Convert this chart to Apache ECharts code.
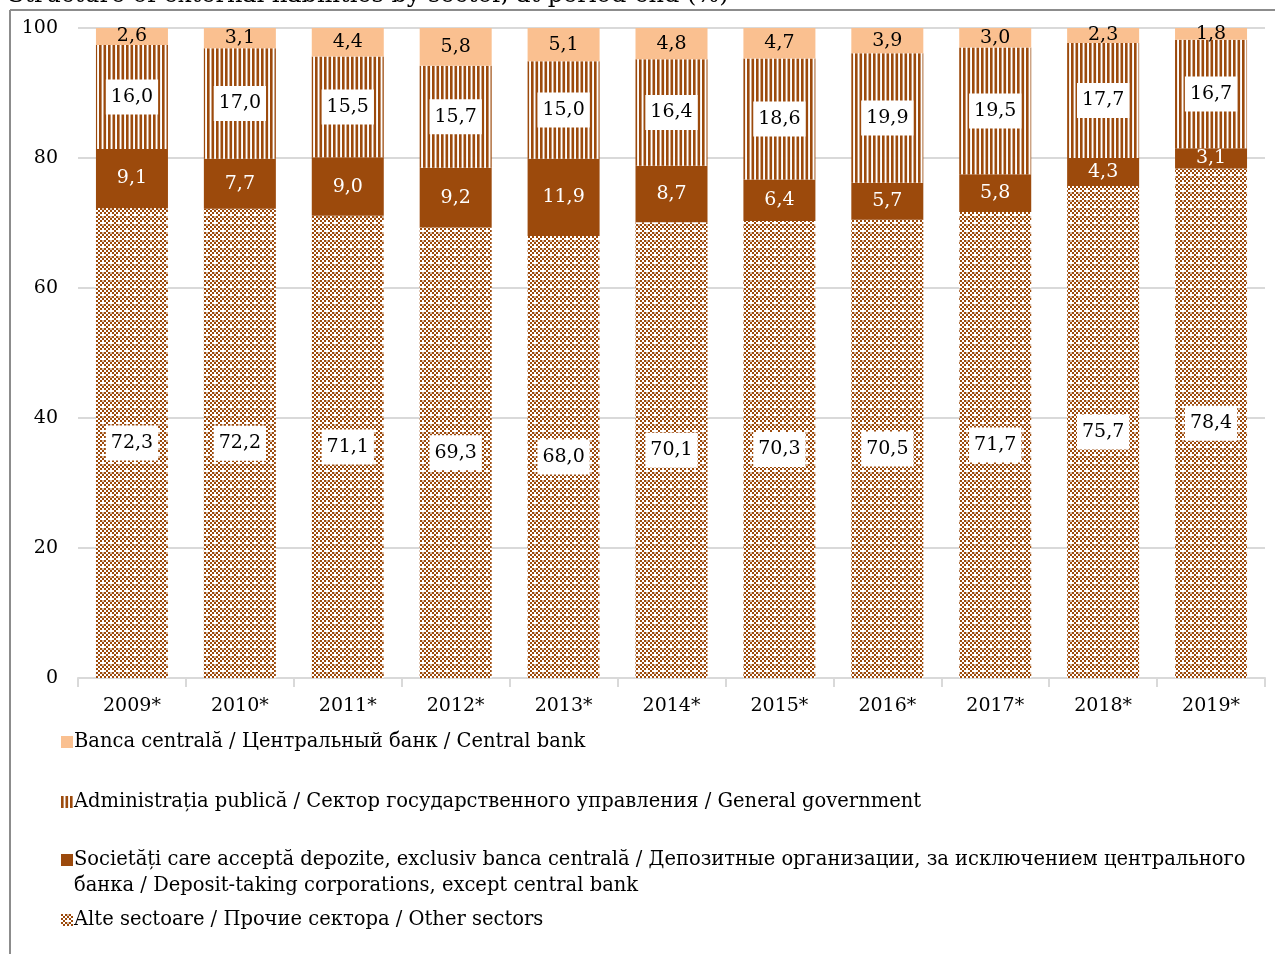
<!DOCTYPE html>
<html>
<head>
<meta charset="utf-8">
<script src="https://cdn.jsdelivr.net/npm/echarts@6/dist/echarts.min.js"></script>
<style>
  html, body { margin: 0; padding: 0; background: #fff; }
  #main { width: 1275px; height: 954px; }
</style>
</head>
<body>
<div id="main"></div>
<script>
var years = ['2009*', '2010*', '2011*', '2012*', '2013*', '2014*', '2015*', '2016*', '2017*', '2018*', '2019*'];
var otherSectors = [72.3, 72.2, 71.1, 69.3, 68.0, 70.1, 70.3, 70.5, 71.7, 75.7, 78.4];
var depositTaking = [9.1, 7.7, 9.0, 9.2, 11.9, 8.7, 6.4, 5.7, 5.8, 4.3, 3.1];
var generalGov = [16.0, 17.0, 15.5, 15.7, 15.0, 16.4, 18.6, 19.9, 19.5, 17.7, 16.7];
var centralBank = [2.6, 3.1, 4.4, 5.8, 5.1, 4.8, 4.7, 3.9, 3.0, 2.3, 1.8];
var yTicks = [0, 20, 40, 60, 80, 100];

var names = [
  'Banca centrală / Центральный банк / Central bank',
  'Administrația publică / Сектор государственного управления / General government',
  'Societăți care acceptă depozite, exclusiv banca centrală / Депозитные организации, за исключением центрального',
  'Alte sectoare / Прочие сектора / Other sectors'
];
var name3second = 'банка / Deposit-taking corporations, except central bank';

var BROWN = '#9c4a0c';
var PEACH = '#fac090';
var FONT = 'DejaVu Serif';

// pattern canvases
function stripes() {
  var c = document.createElement('canvas');
  c.width = 9; c.height = 4;
  var g = c.getContext('2d');
  g.fillStyle = '#fff'; g.fillRect(0, 0, 9, 4);
  g.fillStyle = BROWN;
  g.fillRect(0, 0, 2.6, 4);
  g.fillRect(4.5, 0, 2.6, 4);
  return c;
}
function checks() {
  var c = document.createElement('canvas');
  c.width = 8; c.height = 8;
  var g = c.getContext('2d');
  g.fillStyle = '#fff'; g.fillRect(0, 0, 8, 8);
  g.fillStyle = BROWN;
  for (var i = 0; i < 4; i++) {
    for (var j = 0; j < 4; j++) {
      if ((i + j) % 2 === 0 && !(i === 3 && j === 3)) g.fillRect(i * 2, j * 2, 2, 2);
    }
  }
  g.fillStyle = 'rgba(156,74,12,0.35)';
  g.fillRect(6, 0, 2, 2);
  return c;
}

var fmt = function (p) { return p.value.toFixed(1).replace('.', ','); };

var chart = echarts.init(document.getElementById('main'));

function legendAt(name, top) {
  return {
    data: [name],
    left: 56,
    top: top,
    orient: 'vertical',
    icon: 'rect',
    itemWidth: 12,
    itemHeight: 12,
    itemGap: 0,
    selectedMode: false,
    textStyle: { fontFamily: FONT, fontSize: 19.5, color: '#000', padding: [0, 0, 0, -4] }
  };
}

chart.setOption({
  animation: false,
  textStyle: { fontFamily: FONT },
  graphic: [
    { type: 'text', x: 8, y: -4, style: { text: 'Structure of external liabilities by sector, at period-end (%)', font: '24px ' + FONT, fill: '#000', verticalAlign: 'middle' } },
    { type: 'text', x: 74, y: 886, style: { text: name3second, font: '19.5px ' + FONT, fill: '#000', verticalAlign: 'middle' } },
    { type: 'line', shape: { x1: 10, y1: 10, x2: 1275, y2: 10 }, style: { stroke: '#8c8c8c', lineWidth: 2 } },
    { type: 'line', shape: { x1: 10, y1: 10, x2: 10, y2: 954 }, style: { stroke: '#8c8c8c', lineWidth: 2 } }
  ],
  grid: { left: 78, right: 10, top: 28, bottom: 276 },
  legend: [
    legendAt(names[0], 727),
    legendAt(names[1], 787),
    legendAt(names[2], 845),
    legendAt(names[3], 905)
  ],
  xAxis: {
    type: 'category',
    data: years,
    axisLine: { lineStyle: { color: '#d9d9d9', width: 2 } },
    axisTick: { show: true, length: 9, lineStyle: { color: '#d9d9d9', width: 2 } },
    axisLabel: { color: '#000', fontSize: 19, margin: 19, fontFamily: FONT }
  },
  yAxis: {
    type: 'value',
    min: yTicks[0],
    max: yTicks[yTicks.length - 1],
    interval: 20,
    axisLine: { show: false },
    axisTick: { show: false },
    splitLine: { lineStyle: { color: '#d9d9d9', width: 2 } },
    axisLabel: { color: '#000', fontSize: 19, margin: 20, fontFamily: FONT }
  },
  series: [
    {
      name: names[3], type: 'bar', stack: 's', data: otherSectors, barWidth: 72,
      itemStyle: { color: { image: checks(), repeat: 'repeat' } },
      label: { show: true, position: 'inside', formatter: fmt, color: '#000', fontSize: 19, fontFamily: FONT,
        backgroundColor: '#fff', padding: [8, 5] }
    },
    {
      name: names[2], type: 'bar', stack: 's', data: depositTaking, barWidth: 72,
      itemStyle: { color: BROWN },
      label: { show: true, position: 'inside', formatter: fmt, color: '#fff', fontSize: 19, fontFamily: FONT }
    },
    {
      name: names[1], type: 'bar', stack: 's', data: generalGov, barWidth: 72,
      itemStyle: { color: { image: stripes(), repeat: 'repeat' } },
      label: { show: true, position: 'inside', formatter: fmt, color: '#000', fontSize: 19, fontFamily: FONT,
        backgroundColor: '#fff', padding: [8, 5] }
    },
    {
      name: names[0], type: 'bar', stack: 's', data: centralBank, barWidth: 72,
      itemStyle: { color: PEACH },
      label: { show: true, position: 'inside', formatter: fmt, color: '#000', fontSize: 19, fontFamily: FONT }
    }
  ]
});
</script>
</body>
</html>
